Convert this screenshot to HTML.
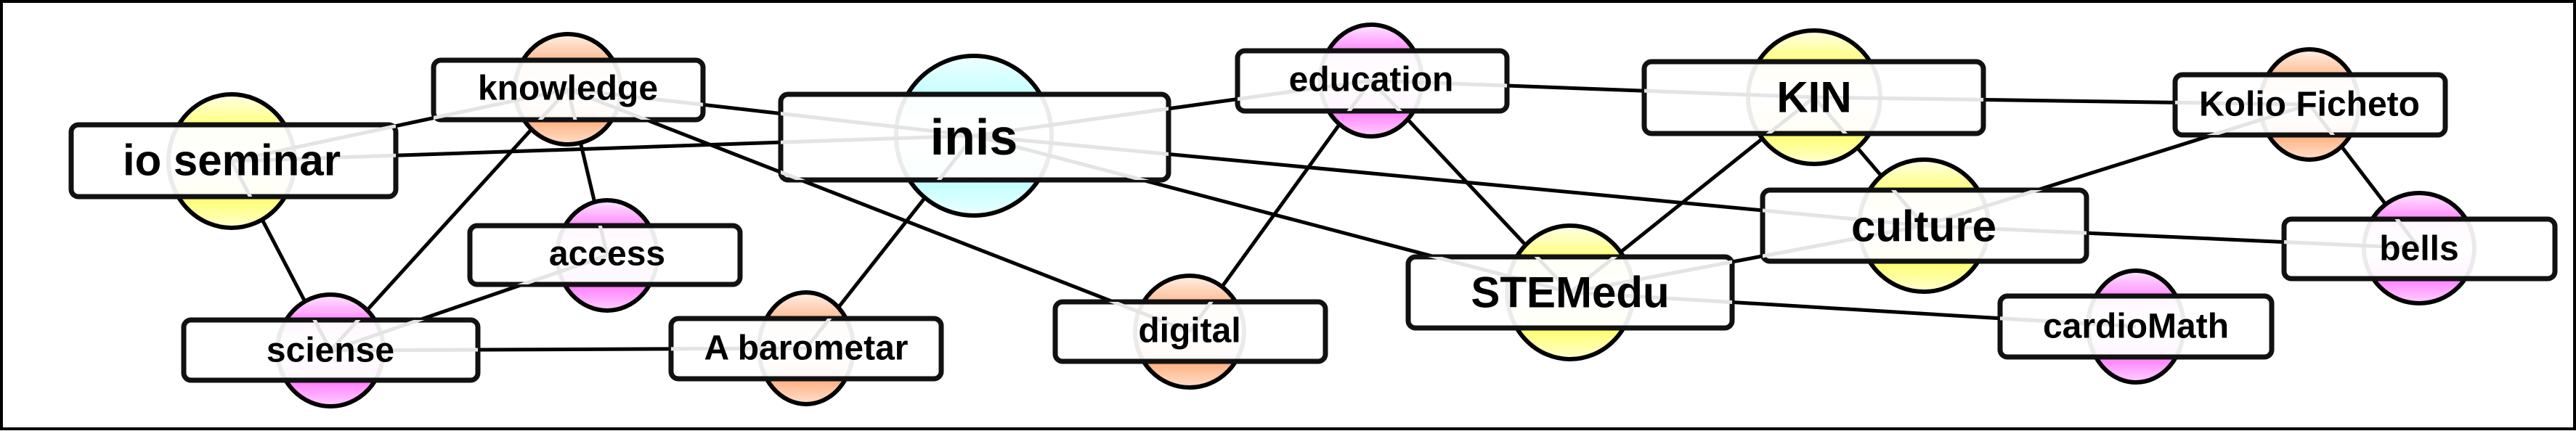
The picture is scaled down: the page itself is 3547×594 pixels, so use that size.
<!DOCTYPE html>
<html><head><meta charset="utf-8"><style>
html,body{margin:0;padding:0;background:#fff;}
svg{display:block;}
text{font-family:"Liberation Sans",Arial,sans-serif;font-weight:bold;fill:#000;text-anchor:middle;dominant-baseline:central;}
</style></head><body>
<svg width="3547" height="594" viewBox="0 0 3547 594" xmlns="http://www.w3.org/2000/svg">
<defs>
<linearGradient id="gy" x1="0" y1="0" x2="0" y2="1"><stop offset="0" stop-color="#ffffe8"/><stop offset="0.22" stop-color="#ffff80"/><stop offset="0.5" stop-color="#fff"/><stop offset="0.78" stop-color="#ffff70"/><stop offset="1" stop-color="#ffffd0"/></linearGradient>
<linearGradient id="go" x1="0" y1="0" x2="0" y2="1"><stop offset="0" stop-color="#fff0e6"/><stop offset="0.22" stop-color="#ffc09a"/><stop offset="0.5" stop-color="#fff"/><stop offset="0.78" stop-color="#ffb080"/><stop offset="1" stop-color="#ffe0cc"/></linearGradient>
<linearGradient id="gp" x1="0" y1="0" x2="0" y2="1"><stop offset="0" stop-color="#ffe6ff"/><stop offset="0.22" stop-color="#ff90ff"/><stop offset="0.5" stop-color="#fff"/><stop offset="0.78" stop-color="#ff80ff"/><stop offset="1" stop-color="#ffd0ff"/></linearGradient>
<linearGradient id="gc" x1="0" y1="0" x2="0" y2="1"><stop offset="0" stop-color="#f0ffff"/><stop offset="0.22" stop-color="#c8ffff"/><stop offset="0.5" stop-color="#fff"/><stop offset="0.78" stop-color="#c0ffff"/><stop offset="1" stop-color="#eaffff"/></linearGradient>
<clipPath id="rc">
<rect x="597" y="83" width="371" height="82"/>
<rect x="98" y="172" width="447" height="99"/>
<rect x="647" y="311" width="372" height="81"/>
<rect x="253" y="441" width="405" height="83"/>
<rect x="924" y="439" width="372" height="83"/>
<rect x="1075" y="130" width="534" height="118"/>
<rect x="1704" y="70" width="371" height="83"/>
<rect x="1453" y="416" width="372" height="82"/>
<rect x="1939" y="354" width="446" height="98"/>
<rect x="2264" y="85" width="467" height="99"/>
<rect x="2995" y="103" width="372" height="83"/>
<rect x="2427" y="262" width="446" height="98"/>
<rect x="3145" y="302" width="373" height="82"/>
<rect x="2754" y="408" width="374" height="84"/>
</clipPath>
<g id="edges">
<line x1="782" y1="123" x2="319" y2="222"/>
<line x1="782" y1="123" x2="1341" y2="187"/>
<line x1="782" y1="123" x2="836" y2="352"/>
<line x1="782" y1="123" x2="455" y2="483"/>
<line x1="782" y1="123" x2="1638" y2="457"/>
<line x1="319" y1="222" x2="1341" y2="187"/>
<line x1="319" y1="222" x2="455" y2="483"/>
<line x1="836" y1="352" x2="455" y2="483"/>
<line x1="455" y1="483" x2="1110" y2="480"/>
<line x1="1110" y1="480" x2="1341" y2="187"/>
<line x1="1341" y1="187" x2="1888" y2="111"/>
<line x1="1341" y1="187" x2="2649" y2="311"/>
<line x1="1341" y1="187" x2="2162" y2="403"/>
<line x1="1888" y1="111" x2="1638" y2="457"/>
<line x1="1888" y1="111" x2="2162" y2="403"/>
<line x1="1888" y1="111" x2="2498" y2="134"/>
<line x1="2498" y1="134" x2="2162" y2="403"/>
<line x1="2498" y1="134" x2="2649" y2="311"/>
<line x1="2498" y1="134" x2="3180" y2="144"/>
<line x1="2649" y1="311" x2="3180" y2="144"/>
<line x1="2649" y1="311" x2="2162" y2="403"/>
<line x1="2649" y1="311" x2="3331" y2="342"/>
<line x1="3180" y1="144" x2="3331" y2="342"/>
<line x1="2162" y1="403" x2="2941" y2="450"/>
</g>
</defs>
<rect x="2" y="2" width="3543" height="589" fill="#fff" stroke="#000" stroke-width="4"/>
<use href="#edges" stroke="#000" stroke-width="5"/>
<g stroke="#000" stroke-width="6">
<ellipse cx="782" cy="123" rx="73" ry="76" fill="url(#go)"/>
<ellipse cx="319" cy="222" rx="87" ry="92" fill="url(#gy)"/>
<ellipse cx="836" cy="352" rx="69" ry="76" fill="url(#gp)"/>
<ellipse cx="455" cy="483" rx="73" ry="77" fill="url(#gp)"/>
<ellipse cx="1110" cy="480" rx="65" ry="77" fill="url(#go)"/>
<ellipse cx="1341" cy="187" rx="107" ry="110" fill="url(#gc)"/>
<ellipse cx="1888" cy="111" rx="70" ry="77" fill="url(#gp)"/>
<ellipse cx="1638" cy="457" rx="75" ry="77" fill="url(#go)"/>
<ellipse cx="2162" cy="403" rx="87" ry="92" fill="url(#gy)"/>
<ellipse cx="2498" cy="134" rx="91" ry="92" fill="url(#gy)"/>
<ellipse cx="3180" cy="144" rx="68" ry="76" fill="url(#go)"/>
<ellipse cx="2649" cy="311" rx="89" ry="91" fill="url(#gy)"/>
<ellipse cx="3331" cy="342" rx="76" ry="76" fill="url(#gp)"/>
<ellipse cx="2941" cy="450" rx="66" ry="77" fill="url(#gp)"/>
</g>
<g fill="#fff" fill-opacity="0.92" stroke="#111" stroke-width="7">
<rect x="597" y="83" width="371" height="82" rx="10"/>
<rect x="98" y="172" width="447" height="99" rx="10"/>
<rect x="647" y="311" width="372" height="81" rx="10"/>
<rect x="253" y="441" width="405" height="83" rx="10"/>
<rect x="924" y="439" width="372" height="83" rx="10"/>
<rect x="1075" y="130" width="534" height="118" rx="10"/>
<rect x="1704" y="70" width="371" height="83" rx="10"/>
<rect x="1453" y="416" width="372" height="82" rx="10"/>
<rect x="1939" y="354" width="446" height="98" rx="10"/>
<rect x="2264" y="85" width="467" height="99" rx="10"/>
<rect x="2995" y="103" width="372" height="83" rx="10"/>
<rect x="2427" y="262" width="446" height="98" rx="10"/>
<rect x="3145" y="302" width="373" height="82" rx="10"/>
<rect x="2754" y="408" width="374" height="84" rx="10"/>
</g>
<use href="#edges" stroke="#e4e4e4" stroke-width="5" clip-path="url(#rc)"/>
<text x="782" y="122" font-size="48">knowledge</text>
<text x="319" y="221" font-size="60">io seminar</text>
<text x="836" y="350" font-size="48">access</text>
<text x="455" y="483" font-size="48">sciense</text>
<text x="1110" y="480" font-size="48">A barometar</text>
<text x="1341" y="189" font-size="70">inis</text>
<text x="1888" y="110" font-size="48">education</text>
<text x="1638" y="456" font-size="48">digital</text>
<text x="2162" y="403" font-size="60">STEMedu</text>
<text x="2498" y="134" font-size="60">KIN</text>
<text x="3180" y="144" font-size="48">Kolio Ficheto</text>
<text x="2649" y="312" font-size="60">culture</text>
<text x="3331" y="343" font-size="48">bells</text>
<text x="2941" y="450" font-size="48">cardioMath</text>
</svg>
</body></html>
